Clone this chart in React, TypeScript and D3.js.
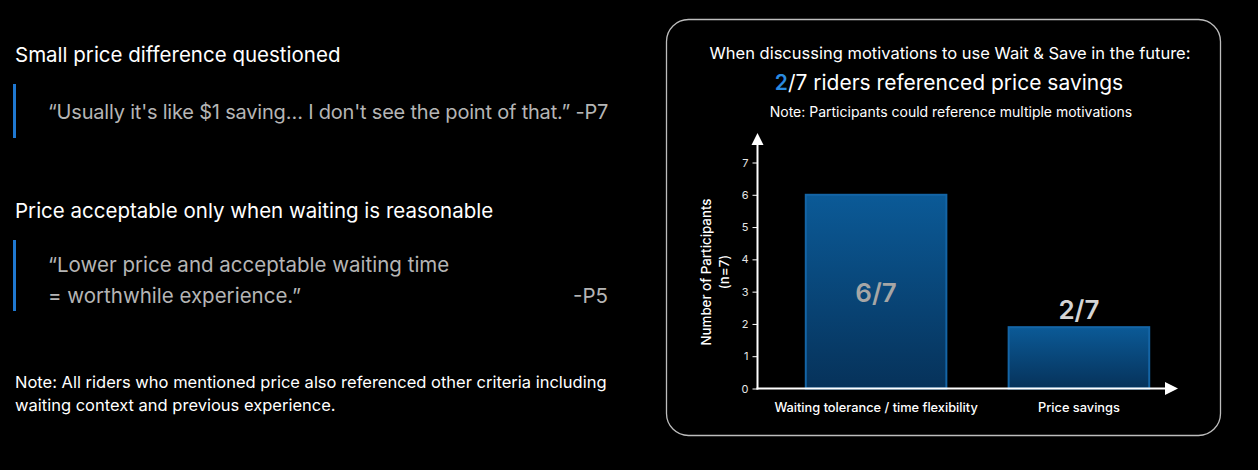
import React, { useEffect, useRef } from 'react';
import * as d3 from 'd3';

const categories = ['Waiting tolerance / time flexibility', 'Price savings'];
const participants = [6, 1.9];
const barLabels = ['6/7', '2/7'];
const yTicks = [0, 1, 2, 3, 4, 5, 6, 7];

const FONT = 'Inter, "Open Sans", sans-serif';

const App: React.FC = () => {
  const svgRef = useRef<SVGSVGElement>(null);
  const width = 1258;
  const height = 470;

  useEffect(() => {
    document.body.style.margin = '0';
    document.body.style.background = '#000';

    const svg = d3.select(svgRef.current);
    svg.selectAll('*').remove();

    svg.append('rect').attr('width', width).attr('height', height).attr('fill', '#000');

    const defs = svg.append('defs');
    const grad = defs.append('linearGradient')
      .attr('id', 'barGrad')
      .attr('x1', 0).attr('y1', 0).attr('x2', 0).attr('y2', 1);
    grad.append('stop').attr('offset', '0%').attr('stop-color', '#0b5a97');
    grad.append('stop').attr('offset', '100%').attr('stop-color', '#06325a');

    // left side text
    const left = svg.append('g').attr('font-family', FONT);
    left.append('text').attr('x', 15).attr('y', 62).attr('fill', '#fff')
      .style('font-size', '20.5px').text('Small price difference questioned');
    left.append('rect').attr('x', 13).attr('y', 84).attr('width', 3).attr('height', 54).attr('fill', '#1f78d1');
    left.append('text').attr('x', 48).attr('y', 119).attr('fill', '#b5b5b5')
      .attr('letter-spacing', '-0.2px')
      .style('font-size', '20px').text('\u201cUsually it\'s like $1 saving\u2026 I don\'t see the point of that.\u201d -P7');

    left.append('text').attr('x', 15).attr('y', 218).attr('fill', '#fff')
      .style('font-size', '20.5px').text('Price acceptable only when waiting is reasonable');
    left.append('rect').attr('x', 13).attr('y', 240).attr('width', 3).attr('height', 71).attr('fill', '#1f78d1');
    left.append('text').attr('x', 48).attr('y', 272).attr('fill', '#b5b5b5')
      .style('font-size', '20.5px').text('\u201cLower price and acceptable waiting time');
    left.append('text').attr('x', 48).attr('y', 303).attr('fill', '#b5b5b5')
      .style('font-size', '20.5px').text('= worthwhile experience.\u201d');
    left.append('text').attr('x', 608).attr('y', 303).attr('fill', '#b5b5b5')
      .attr('text-anchor', 'end').style('font-size', '20.5px').text('-P5');

    left.append('text').attr('x', 15).attr('y', 388).attr('fill', '#fff')
      .style('font-size', '16.5px').text('Note: All riders who mentioned price also referenced other criteria including');
    left.append('text').attr('x', 15).attr('y', 411).attr('fill', '#fff')
      .style('font-size', '16.5px').text('waiting context and previous experience.');

    // panel
    svg.append('rect')
      .attr('x', 666.5).attr('y', 19.5).attr('width', 554).attr('height', 416)
      .attr('rx', 22).attr('fill', 'none').attr('stroke', '#bdbdbd').attr('stroke-width', 1.3);

    const cx = 950;
    svg.append('text').attr('x', cx).attr('y', 59).attr('text-anchor', 'middle')
      .attr('fill', '#fff').attr('font-family', FONT).style('font-size', '16.5px')
      .text('When discussing motivations to use Wait & Save in the future:');
    const t2 = svg.append('text').attr('x', cx - 1).attr('y', 90).attr('text-anchor', 'middle')
      .attr('fill', '#fff').attr('font-family', FONT).style('font-size', '21px');
    t2.append('tspan').attr('fill', '#2a8be0').style('font-weight', '600').text('2');
    t2.append('tspan').text('/7 riders referenced price savings');
    svg.append('text').attr('x', cx + 1).attr('y', 117).attr('text-anchor', 'middle')
      .attr('fill', '#fff').attr('font-family', FONT).style('font-size', '14px')
      .text('Note: Participants could reference multiple motivations');

    // chart
    const x0 = 757.5;
    const y0 = 388.5;
    const yTop = 162.5;

    const y = d3.scaleLinear().domain([0, 7]).range([y0, yTop]);
    const x = d3.scaleBand().domain(categories).range([x0, 1197.5]).paddingInner(0.307).paddingOuter(0.238);

    const g = svg.append('g');

    g.selectAll('rect.bar')
      .data(categories)
      .join('rect')
      .attr('class', 'bar')
      .attr('x', d => x(d)!)
      .attr('y', (d, i) => y(participants[i]))
      .attr('width', x.bandwidth())
      .attr('height', (d, i) => y0 - y(participants[i]))
      .attr('fill', 'url(#barGrad)')
      .attr('stroke', '#1465a6')
      .attr('stroke-width', 2);

    // value labels
    g.append('text')
      .attr('x', x(categories[0])! + x.bandwidth() / 2)
      .attr('y', 302)
      .attr('text-anchor', 'middle')
      .attr('fill', '#a6a6a6')
      .attr('font-family', FONT)
      .style('font-size', '26px').style('font-weight', '600')
      .text(barLabels[0]);
    g.append('text')
      .attr('x', x(categories[1])! + x.bandwidth() / 2)
      .attr('y', 319)
      .attr('text-anchor', 'middle')
      .attr('fill', '#d4d4d4')
      .attr('font-family', FONT)
      .style('font-size', '26px').style('font-weight', '600')
      .text(barLabels[1]);

    // y axis
    const yAxis = d3.axisLeft(y).tickValues(yTicks).tickFormat(d3.format('d')).tickSize(5).tickPadding(4);
    const ya = g.append('g').attr('transform', `translate(${x0},0)`).call(yAxis);
    ya.select('.domain').remove();
    ya.selectAll('line').attr('stroke', '#fff');
    ya.selectAll('text').attr('fill', '#e6e6e6').attr('font-family', FONT).style('font-size', '11px');

    g.append('line').attr('x1', x0).attr('x2', x0).attr('y1', y0 + 1).attr('y2', 143)
      .attr('stroke', '#fff').attr('stroke-width', 2);
    g.append('path')
      .attr('d', `M${x0},133 L${x0 - 6},145 L${x0 + 6},145 Z`).attr('fill', '#fff');

    g.append('line').attr('x1', x0 - 1).attr('x2', 1168).attr('y1', y0).attr('y2', y0)
      .attr('stroke', '#fff').attr('stroke-width', 2);
    g.append('path')
      .attr('d', `M1178,${y0} L1165,${y0 - 6.5} L1165,${y0 + 6.5} Z`).attr('fill', '#fff');

    // x labels
    g.selectAll('text.xl')
      .data(categories)
      .join('text')
      .attr('class', 'xl')
      .attr('x', d => x(d)! + x.bandwidth() / 2)
      .attr('y', 412)
      .attr('text-anchor', 'middle')
      .attr('fill', '#fff')
      .attr('font-family', FONT)
      .style('font-size', '12.8px')
      .style('font-weight', '500')
      .text(d => d);

    // y title
    const yt = g.append('text')
      .attr('transform', `translate(711,272) rotate(-90)`)
      .attr('text-anchor', 'middle')
      .attr('fill', '#fff')
      .attr('font-family', FONT)
      .style('font-size', '13.3px')
      .style('font-weight', '500');
    yt.append('tspan').attr('x', 0).attr('dy', 0).text('Number of Participants');
    yt.append('tspan').attr('x', 0).attr('dy', 18).text('(n=7)');
  }, []);

  return (
    <div>
      <svg ref={svgRef} width={width} height={height} style={{ display: 'block' }} />
    </div>
  );
};

export default App;
